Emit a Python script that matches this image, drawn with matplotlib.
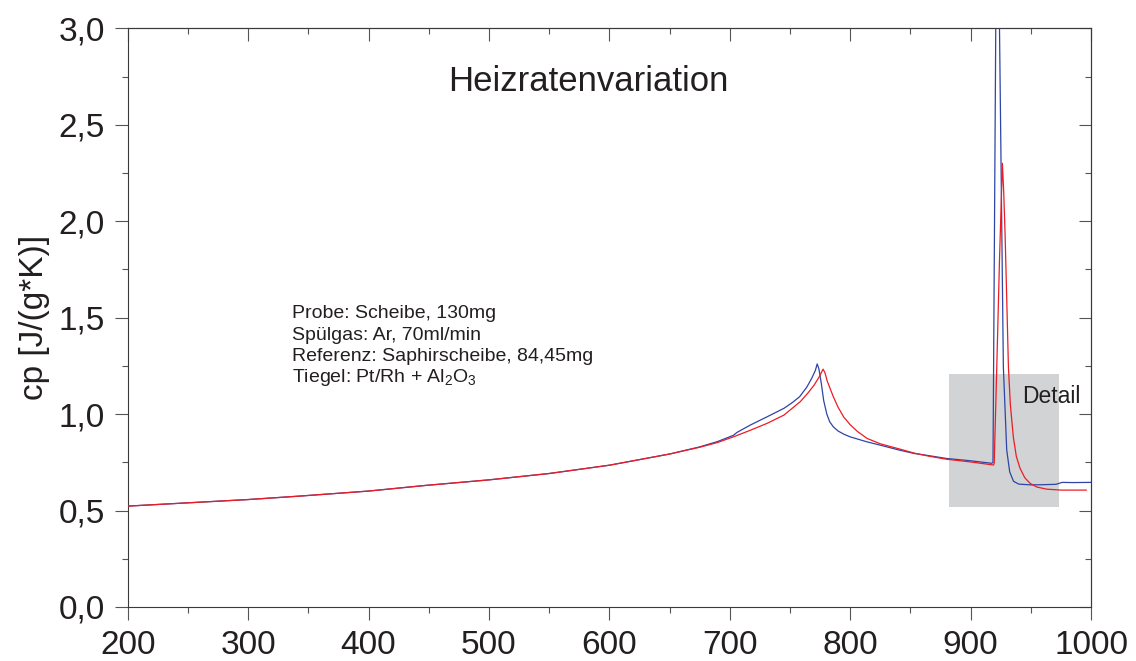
import matplotlib
matplotlib.use("Agg")
import matplotlib.pyplot as plt
from matplotlib.ticker import MultipleLocator, FuncFormatter
from matplotlib.patches import Rectangle

plt.rcParams['font.family'] = ['Liberation Sans', 'DejaVu Sans']
plt.rcParams['mathtext.fontset'] = 'custom'
plt.rcParams['mathtext.rm'] = 'Liberation Sans'
plt.rcParams['mathtext.it'] = 'Liberation Sans'

# temperature [°C] and cp [J/(g*K)], first heating rate (blue)
temp_blue = [200, 250, 300, 343, 400, 447, 500, 550, 600, 650, 675, 690, 703, 706, 717,
             731, 745, 752, 758, 764, 768, 771, 772.6, 774, 776, 778, 780.6, 783, 786, 790,
             795, 800, 814, 825, 841, 853, 866, 880, 900, 917.5, 918.6, 921.5, 924, 927.2,
             930, 932.5, 935.6, 940, 950, 960, 971, 976, 985, 1000]
cp_blue = [0.523, 0.540, 0.557, 0.575, 0.601, 0.630, 0.659, 0.692, 0.735, 0.793, 0.830, 0.858,
           0.890, 0.905, 0.943, 0.986, 1.030, 1.060, 1.090, 1.140, 1.185, 1.225, 1.260, 1.235,
           1.160, 1.070, 1.000, 0.960, 0.934, 0.912, 0.895, 0.882, 0.856, 0.839, 0.813, 0.796,
           0.784, 0.770, 0.758, 0.745, 0.750, 3.600, 3.000, 1.245, 0.813, 0.700, 0.652, 0.637,
           0.633, 0.634, 0.636, 0.646, 0.645, 0.646]

# second heating rate (red)
temp_red = [200, 250, 300, 343, 400, 447, 500, 550, 600, 650, 675, 690, 703, 717, 731, 745,
            758.5, 765, 770, 774, 777.5, 779, 781, 783.5, 786, 790, 794.5, 800, 806, 814, 825,
            841, 853, 866, 880, 900, 919, 919.6, 921.6, 924, 926.4, 927.5, 928.6, 930, 931.4,
            933, 935.5, 938, 941, 945, 949.4, 955, 963, 975, 996]
cp_red = [0.523, 0.540, 0.557, 0.575, 0.601, 0.630, 0.659, 0.692, 0.735, 0.793, 0.828, 0.853,
          0.882, 0.916, 0.952, 0.995, 1.064, 1.110, 1.150, 1.190, 1.233, 1.215, 1.170, 1.130,
          1.090, 1.035, 0.986, 0.945, 0.910, 0.874, 0.846, 0.819, 0.798, 0.781, 0.766, 0.752,
          0.736, 0.745, 1.210, 1.800, 2.300, 2.150, 1.940, 1.600, 1.245, 1.050, 0.880, 0.780,
          0.720, 0.670, 0.641, 0.622, 0.611, 0.606, 0.606]

sample_info = ["Probe: Scheibe, 130mg",
               "Spülgas: Ar, 70ml/min",
               "Referenz: Saphirscheibe, 84,45mg",
               "Tiegel: Pt/Rh + Al$_2$O$_3$"]
info_baselines = [1.497, 1.386, 1.275, 1.166]

# shaded detail window
detail_t = (882, 973)
detail_cp = (0.52, 1.207)

fig = plt.figure(figsize=(11.36, 6.61), dpi=100)
ax = fig.add_axes([0.1124, 0.0817, 0.848, 0.8755])

ax.add_patch(Rectangle((detail_t[0], detail_cp[0]), detail_t[1] - detail_t[0],
                       detail_cp[1] - detail_cp[0], facecolor='#d1d3d4',
                       edgecolor='none', zorder=1))
ax.text(942.5, 1.093, "Detail", fontsize=16.5, color='#231f20', va='center', zorder=4)

ax.plot(temp_blue, cp_blue, color='#2e45a6', lw=0.9, zorder=2)
ax.plot(temp_red, cp_red, color='#ed1c24', lw=0.9, zorder=3)

ax.set_xlim(200, 1000)
ax.set_ylim(0, 3.0)

ax.text(582.8, 2.675, "Heizratenvariation", fontsize=25, ha='center', va='baseline',
        color='#231f20')
for line, yb in zip(sample_info, info_baselines):
    ax.text(336.5, yb, line, fontsize=14, va='baseline', ha='left', color='#231f20')

ax.set_ylabel("cp [J/(g*K)]", fontsize=24, color='#231f20', labelpad=6)

ax.xaxis.set_major_locator(MultipleLocator(100))
ax.xaxis.set_minor_locator(MultipleLocator(50))
ax.yaxis.set_major_locator(MultipleLocator(0.5))
ax.yaxis.set_minor_locator(MultipleLocator(0.25))
ax.yaxis.set_major_formatter(FuncFormatter(lambda v, p: f"{v:.1f}".replace(".", ",")))

for s in ax.spines.values():
    s.set_color('#3a3a3a')
    s.set_linewidth(0.8)

ax.tick_params(which='both', direction='out', color='#555555', width=0.8,
               labelsize=24, labelcolor='#231f20', top=False, right=False)
ax.tick_params(which='major', length=9.5, pad=7)
ax.tick_params(which='minor', length=4.5)

# inward ticks on the top and right frame
top = ax.secondary_xaxis('top')
top.xaxis.set_major_locator(MultipleLocator(100))
top.xaxis.set_minor_locator(MultipleLocator(50))
right = ax.secondary_yaxis('right')
right.yaxis.set_major_locator(MultipleLocator(0.5))
right.yaxis.set_minor_locator(MultipleLocator(0.25))
for sec in (top, right):
    sec.tick_params(which='both', direction='in', color='#555555', width=0.8,
                    labelleft=False, labelright=False, labeltop=False, labelbottom=False)
    sec.tick_params(which='major', length=9)
    sec.tick_params(which='minor', length=4.5)
    for s in sec.spines.values():
        s.set_color('#3a3a3a')
        s.set_linewidth(0.8)

fig.savefig("out.png", dpi=100)
